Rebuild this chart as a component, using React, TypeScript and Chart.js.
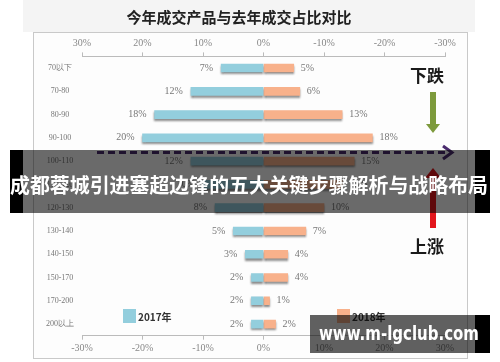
import React, { useEffect, useRef } from "react";
import { Chart, registerables } from "chart.js";

Chart.register(...registerables);

const categories = ["70以下", "70-80", "80-90", "90-100", "100-110", "110-120", "120-130", "130-140", "140-150", "150-170", "170-200", "200以上"];
const share2017 = [7, 12, 18, 20, 12, 10, 8, 5, 3, 2, 2, 2];
const share2018 = [5, 6, 13, 18, 15, 13, 10, 7, 4, 4, 1, 2];
const seriesLabels = ["2017年", "2018年"];
const axisTicks = [-30, -20, -10, 0, 10, 20, 30];
const titleText = "今年成交产品与去年成交占比对比";
const bannerText = "成都蓉城引进塞超边锋的五大关键步骤解析与战略布局";
const watermarkText = "www.m-lgclub.com";
const downText = "下跌";
const upText = "上涨";

const BLUE = "#93CEDD";
const ORANGE = "#F8B18B";
const CJK = '"Noto Sans CJK SC", "Noto Sans", sans-serif';

const fmt = (v: number) => `${Object.is(v, -0) || v === 0 ? 0 : v}%`;

const decorPlugin = {
  id: "decor",
  beforeDraw(chart: any) {
    const { ctx } = chart;
    ctx.save();
    ctx.fillStyle = "#ffffff";
    ctx.fillRect(0, 0, chart.width, chart.height);
    ctx.fillStyle = "#f4f4f4";
    ctx.fillRect(23, 0, 452, 32);
    ctx.fillStyle = "#fdfdfd";
    ctx.fillRect(33, 32, 434, 326);
    ctx.strokeStyle = "#c9c9c9";
    ctx.lineWidth = 1;
    ctx.strokeRect(33.5, 32.5, 434, 326);
    ctx.restore();
  },
  beforeDatasetDraw(chart: any) {
    const { ctx } = chart;
    ctx.save();
    ctx.shadowColor = "rgba(0,0,0,0.45)";
    ctx.shadowOffsetY = 2;
    ctx.shadowOffsetX = 0;
    ctx.shadowBlur = 2;
  },
  afterDatasetDraw(chart: any) {
    chart.ctx.restore();
  },
  afterDatasetsDraw(chart: any) {
    const { ctx } = chart;
    ctx.save();
    ctx.font = '10px "Liberation Serif", serif';
    ctx.fillStyle = "#777";
    ctx.textBaseline = "middle";
    chart.data.datasets.forEach((ds: any, di: number) => {
      const meta = chart.getDatasetMeta(di);
      meta.data.forEach((bar: any, i: number) => {
        const v = Math.abs(ds.data[i]);
        if (ds.data[i] < 0) {
          ctx.textAlign = "right";
          ctx.fillText(`${v}%`, bar.x - 8, bar.y);
        } else {
          ctx.textAlign = "left";
          ctx.fillText(`${v}%`, bar.x + 7, bar.y);
        }
      });
    });
    ctx.restore();
  },
  afterDraw(chart: any) {
    const { ctx } = chart;
    ctx.save();
    // legend
    const items = [
      { x: 123, color: BLUE, label: chart.data.datasets[0].label },
      { x: 337, color: ORANGE, label: chart.data.datasets[1].label },
    ];
    items.forEach((it) => {
      ctx.fillStyle = it.color;
      ctx.fillRect(it.x, 309, 13, 14);
      ctx.fillStyle = "#333";
      ctx.font = `bold 10px ${CJK}`;
      ctx.textAlign = "left";
      ctx.textBaseline = "middle";
      ctx.fillText(it.label, it.x + 15, 317);
    });

    // right annotations
    ctx.fillStyle = "#1a1a1a";
    ctx.font = `bold 17px ${CJK}`;
    ctx.textAlign = "center";
    ctx.textBaseline = "middle";
    ctx.fillText(downText, 427, 76);
    ctx.fillText(upText, 427, 247);

    // green arrow down
    ctx.fillStyle = "#7D9A3C";
    ctx.fillRect(430, 92, 6, 33);
    ctx.beginPath();
    ctx.moveTo(426, 124);
    ctx.lineTo(440, 124);
    ctx.lineTo(433, 133);
    ctx.closePath();
    ctx.fill();

    // red arrow up
    ctx.fillStyle = "#E3161C";
    ctx.fillRect(430, 176, 6, 52);
    ctx.beginPath();
    ctx.moveTo(425, 178);
    ctx.lineTo(441, 178);
    ctx.lineTo(433, 168);
    ctx.closePath();
    ctx.fill();

    // purple dashed line
    ctx.strokeStyle = "#4A2B6E";
    ctx.lineWidth = 3;
    ctx.setLineDash([7, 4]);
    ctx.beginPath();
    ctx.moveTo(97, 152.5);
    ctx.lineTo(448, 152.5);
    ctx.stroke();
    ctx.setLineDash([]);
    ctx.lineWidth = 3;
    ctx.beginPath();
    ctx.moveTo(443, 146);
    ctx.lineTo(452, 152.5);
    ctx.lineTo(443, 159);
    ctx.stroke();

    // banner
    ctx.fillStyle = "#000";
    ctx.fillRect(10, 150, 13, 63);
    ctx.fillRect(475, 150, 15, 63);
    ctx.fillStyle = "rgba(0,0,0,0.58)";
    ctx.fillRect(23, 150, 452, 63);
    ctx.fillStyle = "#ffffff";
    ctx.font = `bold 20px ${CJK}`;
    ctx.textAlign = "center";
    ctx.textBaseline = "middle";
    ctx.fillText(bannerText, 249, 185, 478);

    // watermark box
    ctx.fillStyle = "#000";
    ctx.fillRect(475, 315, 15, 38);
    ctx.fillStyle = "rgba(0,0,0,0.62)";
    ctx.fillRect(310, 315, 165, 38);
    ctx.fillStyle = "#ffffff";
    ctx.font = `bold 19px "DejaVu Sans", sans-serif`;
    ctx.textAlign = "center";
    ctx.fillText(watermarkText, 399, 335, 160);
    ctx.restore();
  },
};

export default function App() {
  const ref = useRef<HTMLCanvasElement | null>(null);
  useEffect(() => {
    if (!ref.current) return;
    const tickFont = { family: '"Liberation Serif", serif', size: 10 };
    const chart = new Chart(ref.current, {
      type: "bar",
      data: {
        labels: categories,
        datasets: [
          { label: seriesLabels[0], data: share2017.map((v) => -v), backgroundColor: BLUE, xAxisID: "x", barThickness: 8 },
          { label: seriesLabels[1], data: share2018, backgroundColor: ORANGE, xAxisID: "x", barThickness: 8 },
        ],
      },
      options: {
        indexAxis: "y",
        animation: false,
        responsive: false,
        maintainAspectRatio: false,
        layout: { padding: { left: 33, right: 55, top: 0, bottom: 4 } },
        plugins: {
          legend: { display: false },
          tooltip: { enabled: false },
          title: {
            display: true,
            text: titleText,
            color: "#222",
            font: { family: CJK, size: 15, weight: "bold", lineHeight: 1.2 },
            padding: { top: 8.5, bottom: 5.5 },
          },
        },
        scales: {
          y: {
            type: "category",
            stacked: true,
            grid: { display: false },
            border: { display: false },
            ticks: { crossAlign: "center", color: "#777", font: { family: '"Liberation Serif", serif', size: 8 }, padding: 0 },
            afterFit: (s: any) => { s.width = 49; },
          },
          x: {
            type: "linear",
            position: "bottom",
            stacked: true,
            min: -30,
            max: 30,
            afterBuildTicks: (s: any) => { s.ticks = axisTicks.map((v) => ({ value: v })); },
            ticks: { color: "#888", font: tickFont, padding: 3, callback: (v: any) => fmt(Number(v)) },
            grid: { drawOnChartArea: false, tickLength: 4, color: "#bbb" },
            border: { color: "#bbb" },
            afterFit: (s: any) => { s.height = 22.3; },
          },
          x2: {
            type: "linear",
            position: "top",
            min: -30,
            max: 30,
            afterBuildTicks: (s: any) => { s.ticks = axisTicks.map((v) => ({ value: v })); },
            ticks: { color: "#888", font: tickFont, padding: 3, callback: (v: any) => fmt(-Number(v)) },
            grid: { drawOnChartArea: false, tickLength: 4, color: "#bbb" },
            border: { color: "#bbb" },
            afterFit: (s: any) => { s.height = 24.4; },
          },
        },
      },
      plugins: [decorPlugin],
    } as any);
    return () => chart.destroy();
  }, []);
  return (
    <div style={{ position: "fixed", left: 0, top: 0, width: 500, height: 362 }}>
      <canvas ref={ref} width={500} height={362} style={{ width: 500, height: 362 }} />
    </div>
  );
}
